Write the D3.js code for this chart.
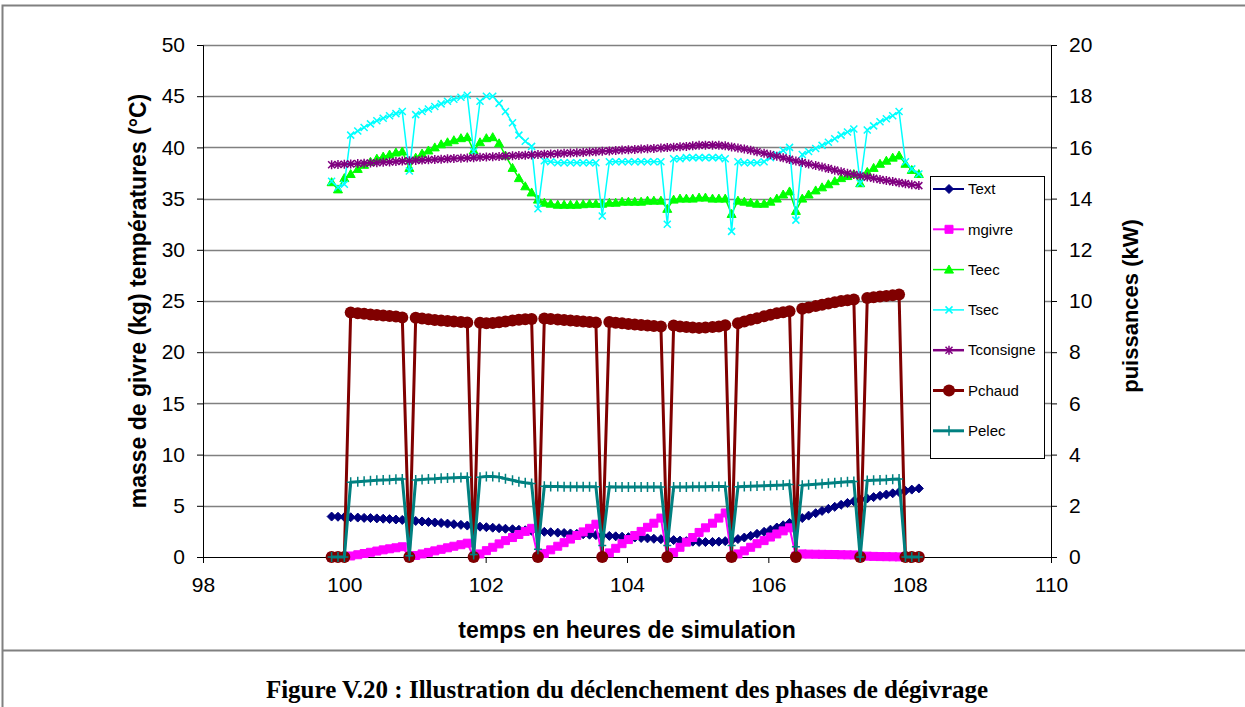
<!DOCTYPE html>
<html>
<head>
<meta charset="utf-8">
<script src="https://cdn.jsdelivr.net/npm/d3@7"></script>
<style>
  body { margin: 0; background: #fff; }
  svg text { font-family: "Liberation Sans", Arial, sans-serif; }
</style>
</head>
<body>
<div id="chart"></div>
<script>
// temps de simulation (h)
var temps = [99.82, 99.91, 100.00, 100.09, 100.19, 100.28, 100.37, 100.46, 100.55, 100.64,
  100.73, 100.82, 100.92, 101.01, 101.10, 101.19, 101.28, 101.37, 101.46, 101.55,
  101.65, 101.74, 101.83, 101.92, 102.01, 102.10, 102.19, 102.28, 102.38, 102.47,
  102.56, 102.65, 102.74, 102.83, 102.92, 103.02, 103.11, 103.20, 103.29, 103.38,
  103.47, 103.56, 103.65, 103.75, 103.84, 103.93, 104.02, 104.11, 104.20, 104.29,
  104.38, 104.48, 104.57, 104.66, 104.75, 104.84, 104.93, 105.02, 105.11, 105.21,
  105.30, 105.39, 105.48, 105.57, 105.66, 105.75, 105.84, 105.94, 106.03, 106.12,
  106.21, 106.30, 106.39, 106.48, 106.57, 106.67, 106.76, 106.85, 106.94, 107.03,
  107.12, 107.21, 107.30, 107.40, 107.49, 107.58, 107.67, 107.76, 107.85, 107.94,
  108.03, 108.13];

// axe gauche (degC / kg)
var Text = [3.95, 3.93, 3.9, 3.88, 3.85, 3.82, 3.8, 3.77, 3.74, 3.7,
  3.66, 3.62, 3.57, 3.52, 3.47, 3.42, 3.37, 3.32, 3.26, 3.2,
  3.14, 3.07, 3.0, 2.96, 2.91, 2.86, 2.81, 2.76, 2.71, 2.66,
  2.61, 2.56, 2.5, 2.46, 2.42, 2.38, 2.34, 2.3, 2.26, 2.22,
  2.18, 2.14, 2.1, 2.06, 2.02, 1.98, 1.94, 1.9, 1.86, 1.82,
  1.78, 1.74, 1.7, 1.65, 1.6, 1.55, 1.5, 1.47, 1.46, 1.47,
  1.5, 1.55, 1.62, 1.75, 1.9, 2.07, 2.26, 2.46, 2.67, 2.88,
  3.1, 3.33, 3.57, 3.8, 4.04, 4.28, 4.5, 4.7, 4.9, 5.1,
  5.28, 5.44, 5.58, 5.72, 5.85, 5.98, 6.1, 6.22, 6.34, 6.46,
  6.58, 6.7];

var mgivre = [0, 0, 0,
  0.1, 0.22, 0.34, 0.46, 0.58, 0.7, 0.8, 0.9, 1.0, 0,
  0.15, 0.3, 0.45, 0.6, 0.75, 0.9, 1.05, 1.2, 1.35, 0,
  0.3, 0.62, 0.95, 1.28, 1.6, 1.9, 2.2, 2.5, 2.8, 0,
  0.35, 0.7, 1.05, 1.4, 1.75, 2.1, 2.45, 2.8, 3.2, 0,
  0.4, 0.85, 1.3, 1.7, 2.1, 2.5, 2.9, 3.3, 3.8, 0,
  0.45, 0.95, 1.45, 1.9, 2.4, 2.85, 3.3, 3.8, 4.3, 0,
  0.3, 0.6, 0.95, 1.3, 1.6, 1.95, 2.25, 2.55, 2.85, 0.1,
  0.3, 0.28, 0.27, 0.26, 0.25, 0.24, 0.22, 0.21, 0.2, 0.1,
  0.08, 0.06, 0.04, 0.03, 0.02, 0.01,
  0, 0, 0];

var Teec = [36.6, 35.9, 37.0,
  37.4, 37.9, 38.3, 38.6, 38.9, 39.1, 39.3, 39.5, 39.6, 38.0,
  39.0, 39.4, 39.7, 40.0, 40.3, 40.5, 40.7, 40.9, 41.0, 39.7,
  40.5, 40.9, 41.0, 40.4, 39.2, 38.0, 37.0, 36.2, 35.6, 34.9,
  34.6, 34.5, 34.4, 34.4, 34.4, 34.4, 34.45, 34.5, 34.5, 34.5,
  34.6, 34.6, 34.7, 34.7, 34.7, 34.7, 34.8, 34.8, 34.8, 34.0,
  34.9, 35.0, 35.0, 35.0, 35.1, 35.1, 35.0, 35.0, 35.0, 33.5,
  34.8, 34.7, 34.6, 34.5, 34.5, 34.7, 35.0, 35.4, 35.7, 33.8,
  35.0, 35.4, 35.8, 36.1, 36.4, 36.7, 37.0, 37.2, 37.4, 36.5,
  37.6, 38.0, 38.4, 38.7, 39.0, 39.2,
  38.4, 37.8, 37.4];

var Tsec = [36.7, 36.1, 36.4,
  41.2, 41.6, 41.95, 42.3, 42.6, 42.85, 43.1, 43.3, 43.5, 37.7,
  43.2, 43.5, 43.75, 44.0, 44.25, 44.5, 44.7, 44.9, 45.1, 39.6,
  44.5, 45.0, 45.0, 44.3, 43.5, 42.4, 41.2, 40.6, 40.1, 34.0,
  38.7, 38.6, 38.5, 38.5, 38.5, 38.5, 38.5, 38.5, 38.5, 33.3,
  38.6, 38.6, 38.6, 38.6, 38.6, 38.6, 38.6, 38.6, 38.6, 32.5,
  38.9, 38.9, 39.0, 39.0, 39.0, 39.0, 39.0, 39.0, 38.9, 31.8,
  38.6, 38.5, 38.5, 38.5, 38.6, 39.0, 39.3, 39.7, 40.0, 32.9,
  39.3, 39.6, 39.9, 40.2, 40.5, 40.85, 41.2, 41.5, 41.8, 36.5,
  41.7, 42.1, 42.5, 42.8, 43.1, 43.5,
  38.6, 37.9, 37.4];

var Tconsigne = [38.3, 38.33, 38.36, 38.39, 38.42, 38.45, 38.48, 38.51, 38.55, 38.58,
  38.62, 38.66, 38.7, 38.73, 38.76, 38.79, 38.82, 38.85, 38.88, 38.91,
  38.94, 38.97, 39.0, 39.03, 39.06, 39.09, 39.12, 39.15, 39.18, 39.21,
  39.24, 39.27, 39.3, 39.33, 39.36, 39.39, 39.42, 39.45, 39.48, 39.51,
  39.55, 39.58, 39.62, 39.66, 39.7, 39.74, 39.77, 39.8, 39.84, 39.87,
  39.9, 39.94, 39.98, 40.02, 40.06, 40.1, 40.15, 40.2, 40.22, 40.22,
  40.2, 40.15, 40.05, 39.95, 39.85, 39.72, 39.58, 39.43, 39.28, 39.13,
  38.98, 38.83, 38.68, 38.53, 38.38, 38.23, 38.08, 37.93, 37.78, 37.63,
  37.48, 37.35, 37.22, 37.1, 36.98, 36.87, 36.76, 36.66, 36.56, 36.46,
  36.36, 36.27];

// axe droit (kW)
var Pchaud = [0, 0, 0,
  9.55, 9.52, 9.5, 9.47, 9.45, 9.43, 9.41, 9.39, 9.36, 0,
  9.35, 9.32, 9.29, 9.26, 9.24, 9.22, 9.2, 9.18, 9.16, 0,
  9.15, 9.13, 9.14, 9.17, 9.2, 9.24, 9.27, 9.29, 9.3, 0,
  9.32, 9.3, 9.28, 9.26, 9.24, 9.22, 9.2, 9.18, 9.16, 0,
  9.18, 9.15, 9.13, 9.1, 9.08, 9.06, 9.04, 9.02, 9.0, 0,
  9.04, 9.0, 8.98, 8.96, 8.95, 8.96, 8.98, 9.0, 9.05, 0,
  9.13, 9.2, 9.27, 9.33, 9.4, 9.46, 9.52, 9.56, 9.6, 0,
  9.7, 9.75, 9.8, 9.85, 9.9, 9.95, 10.0, 10.03, 10.06, 0,
  10.12, 10.15, 10.18, 10.2, 10.22, 10.25,
  0, 0, 0];

var Pelec = [0, 0, 0,
  2.92, 2.94, 2.96, 2.98, 3.0, 3.01, 3.02, 3.04, 3.05, 0.05,
  3.01, 3.03, 3.05, 3.06, 3.08, 3.09, 3.1, 3.11, 3.12, 0.1,
  3.12, 3.14, 3.14, 3.12, 3.06, 3.0, 2.94, 2.9, 2.87, 0.3,
  2.76, 2.75, 2.75, 2.74, 2.74, 2.74, 2.74, 2.74, 2.74, 0.45,
  2.74, 2.73, 2.73, 2.73, 2.73, 2.73, 2.73, 2.73, 2.73, 0.45,
  2.73, 2.73, 2.73, 2.74, 2.74, 2.74, 2.75, 2.75, 2.75, 0.45,
  2.74, 2.75, 2.76, 2.77, 2.78, 2.79, 2.8, 2.81, 2.83, 0.4,
  2.8, 2.82, 2.84, 2.86, 2.88, 2.9, 2.92, 2.94, 2.95, 0,
  2.99, 3.0, 3.01, 3.02, 3.04, 3.05,
  0, 0, 0];

var xTicks = [98, 100, 102, 104, 106, 108, 110];
var yLeftTicks = [0, 5, 10, 15, 20, 25, 30, 35, 40, 45, 50];
var yRightTicks = [0, 2, 4, 6, 8, 10, 12, 14, 16, 18, 20];

var series = [
  { name: "Text", values: Text, axis: "L", color: "#000080", marker: "diamond", lw: 2 },
  { name: "mgivre", values: mgivre, axis: "L", color: "#ff00ff", marker: "square", lw: 2 },
  { name: "Teec", values: Teec, axis: "L", color: "#00ff00", marker: "triangle", lw: 1.5 },
  { name: "Tsec", values: Tsec, axis: "L", color: "#00ffff", marker: "cross", lw: 1.5 },
  { name: "Tconsigne", values: Tconsigne, axis: "L", color: "#800080", marker: "star", lw: 2.5 },
  { name: "Pchaud", values: Pchaud, axis: "R", color: "#800000", marker: "circle", lw: 3 },
  { name: "Pelec", values: Pelec, axis: "R", color: "#008080", marker: "plus", lw: 3 }
];

var W = 1245, H = 707;
var plot = { left: 203, right: 1051, top: 45, bottom: 557 };

var svg = d3.select("#chart").append("svg")
  .attr("width", W)
  .attr("height", H);

// cadre
svg.append("path")
  .attr("d", "M2.5,707 L2.5,5.5 L1245,5.5")
  .attr("fill", "none")
  .attr("stroke", "#808080")
  .attr("stroke-width", 2);
svg.append("line")
  .attr("x1", 2).attr("x2", W)
  .attr("y1", 650.5).attr("y2", 650.5)
  .attr("stroke", "#808080")
  .attr("stroke-width", 2);

var x = d3.scaleLinear().domain([98, 110]).range([plot.left, plot.right]);
var yL = d3.scaleLinear().domain([0, 50]).range([plot.bottom, plot.top]);
var yR = d3.scaleLinear().domain([0, 20]).range([plot.bottom, plot.top]);

// quadrillage
svg.append("g")
  .selectAll("line")
  .data(yLeftTicks.slice(1))
  .enter().append("line")
  .attr("x1", plot.left).attr("x2", plot.right)
  .attr("y1", function(d) { return Math.round(yL(d)) + 0.5; })
  .attr("y2", function(d) { return Math.round(yL(d)) + 0.5; })
  .attr("stroke", "#808080")
  .attr("stroke-width", 1.5);

// axes
var axL = svg.append("g")
  .attr("transform", "translate(" + plot.left + ",0)")
  .call(d3.axisLeft(yL).tickValues(yLeftTicks).tickSize(6).tickPadding(12));
var axR = svg.append("g")
  .attr("transform", "translate(" + plot.right + ",0)")
  .call(d3.axisRight(yR).tickValues(yRightTicks).tickSize(6).tickPadding(12));
var axX = svg.append("g")
  .attr("transform", "translate(0," + plot.bottom + ")")
  .call(d3.axisBottom(x).tickValues(xTicks).tickSize(6).tickPadding(14));

[axL, axR, axX].forEach(function(a) {
  a.selectAll("text").style("font-size", "21px").attr("fill", "#000");
  a.selectAll("line").attr("stroke", "#000");
  a.select(".domain").attr("stroke", "#000");
});

// marqueurs
function markerPath(type) {
  switch (type) {
    case "diamond": return "M0,-4.5L4.5,0L0,4.5L-4.5,0Z";
    case "square": return "M-4,-4L4,-4L4,4L-4,4Z";
    case "triangle": return "M0,-4.5L4.5,3.5L-4.5,3.5Z";
    case "cross": return "M-3.5,-3.5L3.5,3.5M-3.5,3.5L3.5,-3.5";
    case "star": return "M-3.5,-3.5L3.5,3.5M-3.5,3.5L3.5,-3.5M0,-4.5L0,4.5";
    case "plus": return "M-4,0L4,0M0,-5L0,5";
  }
  return null;
}

function drawMarker(sel, s) {
  if (s.marker === "circle") {
    sel.append("circle").attr("r", 6).attr("fill", s.color);
  } else {
    var filled = ["diamond", "square", "triangle"].indexOf(s.marker) >= 0;
    sel.append("path")
      .attr("d", markerPath(s.marker))
      .attr("fill", filled ? s.color : "none")
      .attr("stroke", s.color)
      .attr("stroke-width", filled ? 1 : 1.5);
  }
}

series.forEach(function(s) {
  var ys = s.axis === "L" ? yL : yR;
  var pts = temps.map(function(t, i) { return [t, s.values[i]]; });
  var line = d3.line()
    .x(function(d) { return x(d[0]); })
    .y(function(d) { return ys(d[1]); });

  var g = svg.append("g").attr("class", "serie");
  g.append("path")
    .datum(pts)
    .attr("d", line)
    .attr("fill", "none")
    .attr("stroke", s.color)
    .attr("stroke-width", s.lw)
    .attr("stroke-linejoin", "round");

  g.selectAll(".m")
    .data(pts)
    .enter().append("g")
    .attr("class", "m")
    .attr("transform", function(d) { return "translate(" + x(d[0]) + "," + ys(d[1]) + ")"; })
    .each(function() { drawMarker(d3.select(this), s); });
});

// legende
var leg = svg.append("g").attr("transform", "translate(930,176)");
leg.append("rect")
  .attr("x", 0.5).attr("y", 0.5)
  .attr("width", 114).attr("height", 282)
  .attr("fill", "#fff")
  .attr("stroke", "#000")
  .attr("stroke-width", 1);

var item = leg.selectAll(".item")
  .data(series)
  .enter().append("g")
  .attr("class", "item")
  .attr("transform", function(d, i) { return "translate(0," + (13 + i * 40.3) + ")"; });

item.append("line")
  .attr("x1", 3).attr("x2", 34)
  .attr("stroke", function(d) { return d.color; })
  .attr("stroke-width", function(d) { return d.lw; });
item.append("g")
  .attr("transform", "translate(19,0)")
  .each(function(d) { drawMarker(d3.select(this), d); });
item.append("text")
  .attr("x", 38)
  .attr("dy", "0.35em")
  .style("font-size", "15px")
  .text(function(d) { return d.name; });

// titres des axes
svg.append("text")
  .attr("transform", "translate(146," + ((plot.top + plot.bottom) / 2) + ") rotate(-90)")
  .attr("text-anchor", "middle")
  .style("font-size", "23px")
  .style("font-weight", "bold")
  .text("masse de givre (kg) températures (°C)");

svg.append("text")
  .attr("transform", "translate(1138,306) rotate(-90)")
  .attr("text-anchor", "middle")
  .style("font-size", "22px")
  .style("font-weight", "bold")
  .text("puissances (kW)");

svg.append("text")
  .attr("x", (plot.left + plot.right) / 2)
  .attr("y", 638)
  .attr("text-anchor", "middle")
  .style("font-size", "23px")
  .style("font-weight", "bold")
  .text("temps en heures de simulation");

svg.append("text")
  .attr("x", 627)
  .attr("y", 698)
  .attr("text-anchor", "middle")
  .style("font-family", "'Liberation Serif', 'Times New Roman', serif")
  .style("font-size", "25px")
  .style("font-weight", "bold")
  .text("Figure V.20 : Illustration du déclenchement des phases de dégivrage");
</script>
</body>
</html>
